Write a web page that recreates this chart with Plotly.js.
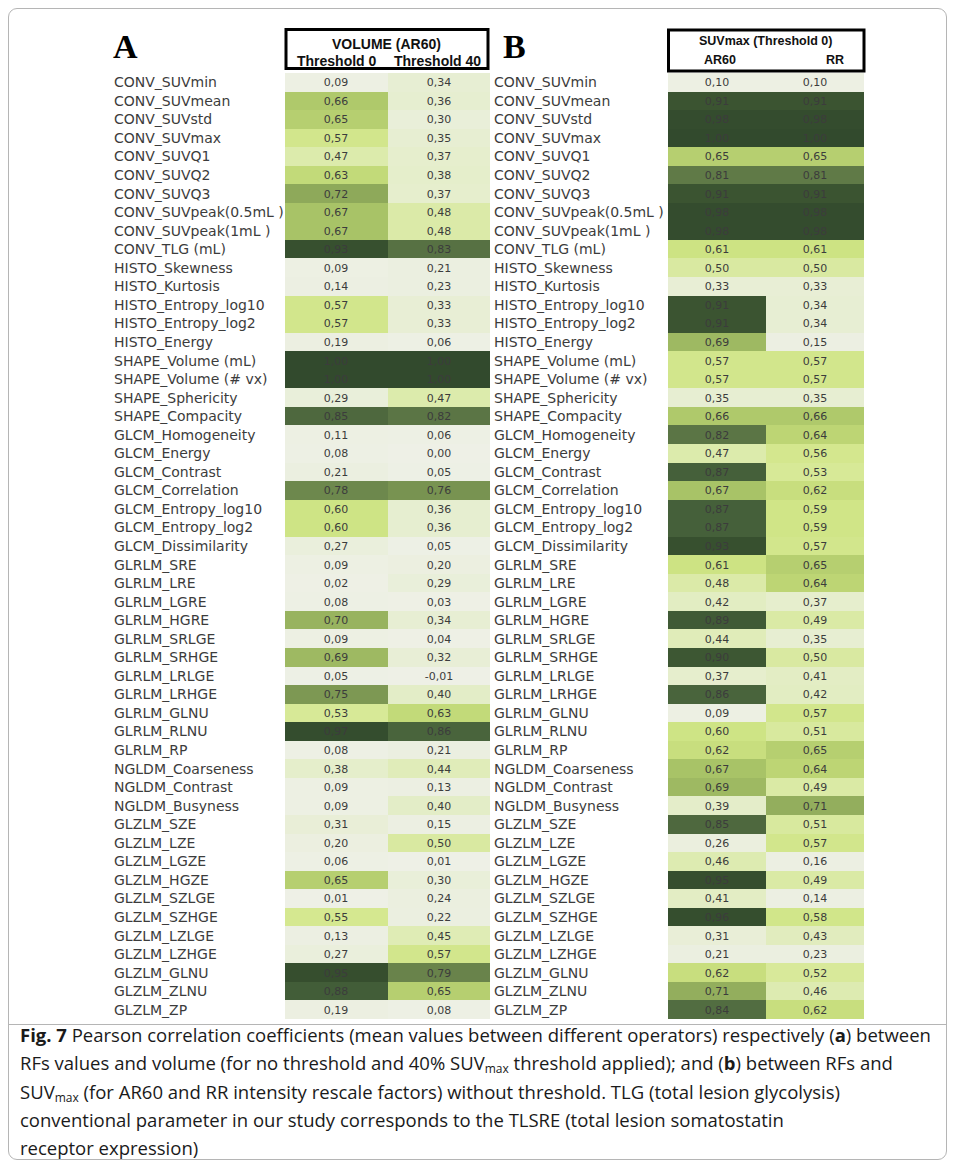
<!DOCTYPE html>
<html><head><meta charset="utf-8">
<script src="https://cdn.plot.ly/plotly-3.0.1.min.js"></script>
<style>
html,body{margin:0;padding:0;background:#fff;}
#wrap{position:relative;width:955px;height:1168px;overflow:hidden;background:#fff;}
#chart{position:absolute;left:0;top:0;width:955px;height:1168px;}
#frame{position:absolute;left:8px;top:8px;width:937px;height:1150px;border:1px solid #b5b5b5;border-radius:9px;pointer-events:none;}
#sep{position:absolute;left:9px;top:1024px;width:937px;height:0;border-top:1px solid #b5b5b5;}
#cap{position:absolute;left:20px;top:1021px;font-family:'Open Sans',sans-serif;font-size:18.5px;line-height:28.3px;color:#1a1a1a;white-space:nowrap;}
#cap sub{font-size:12px;vertical-align:-3px;line-height:0;}
</style></head>
<body>
<div id="wrap">
<div id="chart"></div>
<div id="frame"></div>
<div id="sep"></div>
<div id="cap"><b>Fig. 7</b> Pearson correlation coefficients (mean values between different operators) respectively (<b>a</b>) between<br>RFs values and volume (for no threshold and 40% SUV<sub>max</sub> threshold applied); and (<b>b</b>) between RFs and<br>SUV<sub>max</sub> (for AR60 and RR intensity rescale factors) without threshold. TLG (total lesion glycolysis)<br>conventional parameter in our study corresponds to the TLSRE (total lesion somatostatin<br>receptor expression)</div>
</div>
<script>
const rowLabels = [
 'CONV_SUVmin','CONV_SUVmean','CONV_SUVstd','CONV_SUVmax','CONV_SUVQ1','CONV_SUVQ2','CONV_SUVQ3',
 'CONV_SUVpeak(0.5mL )','CONV_SUVpeak(1mL )','CONV_TLG (mL)',
 'HISTO_Skewness','HISTO_Kurtosis','HISTO_Entropy_log10','HISTO_Entropy_log2','HISTO_Energy',
 'SHAPE_Volume (mL)','SHAPE_Volume (# vx)','SHAPE_Sphericity','SHAPE_Compacity',
 'GLCM_Homogeneity','GLCM_Energy','GLCM_Contrast','GLCM_Correlation','GLCM_Entropy_log10','GLCM_Entropy_log2','GLCM_Dissimilarity',
 'GLRLM_SRE','GLRLM_LRE','GLRLM_LGRE','GLRLM_HGRE','GLRLM_SRLGE','GLRLM_SRHGE','GLRLM_LRLGE','GLRLM_LRHGE','GLRLM_GLNU','GLRLM_RLNU','GLRLM_RP',
 'NGLDM_Coarseness','NGLDM_Contrast','NGLDM_Busyness',
 'GLZLM_SZE','GLZLM_LZE','GLZLM_LGZE','GLZLM_HGZE','GLZLM_SZLGE','GLZLM_SZHGE','GLZLM_LZLGE','GLZLM_LZHGE','GLZLM_GLNU','GLZLM_ZLNU','GLZLM_ZP'
];
const colsA = ['Threshold 0','Threshold 40'];
const colsB = ['AR60','RR'];
const volThr0 = [0.09,0.66,0.65,0.57,0.47,0.63,0.72,0.67,0.67,0.93,
 0.09,0.14,0.57,0.57,0.19,1.00,1.00,
 0.29,0.85,0.11,0.08,0.21,0.78,0.60,0.60,0.27,
 0.09,0.02,0.08,0.70,0.09,0.69,0.05,0.75,0.53,0.97,0.08,
 0.38,0.09,0.09,
 0.31,0.20,0.06,0.65,0.01,0.55,0.13,0.27,0.95,0.88,0.19];
const volThr40 = [0.34,0.36,0.30,0.35,0.37,0.38,0.37,0.48,0.48,0.83,
 0.21,0.23,0.33,0.33,0.06,1.00,1.00,
 0.47,0.82,0.06,0.00,0.05,0.76,0.36,0.36,0.05,
 0.20,0.29,0.03,0.34,0.04,0.32,-0.01,0.40,0.63,0.86,0.21,
 0.44,0.13,0.40,
 0.15,0.50,0.01,0.30,0.24,0.22,0.45,0.57,0.79,0.65,0.08];
const suvAR60 = [0.10,0.91,0.98,1.00,0.65,0.81,0.91,0.98,0.98,0.61,
 0.50,0.33,0.91,0.91,0.69,0.57,0.57,
 0.35,0.66,0.82,0.47,0.87,0.67,0.87,0.87,0.93,
 0.61,0.48,0.42,0.89,0.44,0.90,0.37,0.86,0.09,0.60,0.62,
 0.67,0.69,0.39,
 0.85,0.26,0.46,0.95,0.41,0.96,0.31,0.21,0.62,0.71,0.84];
const suvRR = [0.10,0.91,0.98,1.00,0.65,0.81,0.91,0.98,0.98,0.61,
 0.50,0.33,0.34,0.34,0.15,0.57,0.57,
 0.35,0.66,0.64,0.56,0.53,0.62,0.59,0.59,0.57,
 0.65,0.64,0.37,0.49,0.35,0.50,0.41,0.42,0.57,0.51,0.65,
 0.64,0.49,0.71,
 0.51,0.57,0.16,0.49,0.14,0.58,0.43,0.23,0.52,0.46,0.62];

const W = 955, H = 1168;
const px = v => v / W;
const py = v => 1 - v / H;
const fmt = v => v.toFixed(2).replace('.', ',');

const greens = [
 [0.00,'#eef0e6'],[0.25,'#ebefdf'],[0.35,'#e7eed2'],[0.42,'#e2edc2'],[0.48,'#dbeaa8'],
 [0.55,'#d5e890'],[0.61,'#cde383'],[0.64,'#bdd574'],[0.67,'#a8c367'],[0.72,'#8ea95a'],
 [0.77,'#728d4f'],[0.82,'#5b7545'],[0.87,'#45603a'],[0.92,'#38512f'],[1.00,'#324a2d']
];

function heat(cols, a, b, xa) {
  return {
    type:'heatmap', x: cols, y: rowLabels,
    z: rowLabels.map((_, i) => [a[i], b[i]]),
    text: rowLabels.map((_, i) => [fmt(a[i]), fmt(b[i])]),
    texttemplate:'%{text}',
    textfont:{family:'DejaVu Sans, sans-serif', size:11, color:'#3c3c3c'},
    colorscale: greens, zmin:0, zmax:1, showscale:false,
    xaxis: xa, yaxis:'y', hoverinfo:'skip', xgap:0, ygap:0
  };
}

const data = [heat(colsA, volThr0, volThr40, 'x'), heat(colsB, suvAR60, suvRR, 'x2')];

const annotations = [];
rowLabels.forEach(l => {
  [112, 492].forEach(x0 => annotations.push({
    xref:'paper', yref:'y', x: px(x0), y: l, xanchor:'left', yanchor:'middle',
    text: l, showarrow:false,
    font:{family:'DejaVu Sans, sans-serif', size:14, color:'#3c3c3c'}
  }));
});
const hdr = (t, x, y, size) => ({xref:'paper', yref:'paper', x:px(x), y:py(y), xanchor:'center', yanchor:'middle',
  text:'<b>'+t+'</b>', showarrow:false, font:{family:'Liberation Sans, Arial, sans-serif', size:size, color:'#111'}});
annotations.push(hdr('VOLUME (AR60)', 386.5, 44, 14));
annotations.push(hdr(colsA[0], 337, 61, 14));
annotations.push(hdr(colsA[1], 437, 61, 14));
annotations.push(hdr('SUVmax (Threshold 0)', 765, 41, 12.5));
annotations.push(hdr(colsB[0], 720, 60, 12.5));
annotations.push(hdr(colsB[1], 835, 60, 12.5));
const big = (t, x) => ({xref:'paper', yref:'paper', x:px(x), y:py(47), xanchor:'left', yanchor:'middle',
  text:'<b>'+t+'</b>', showarrow:false, font:{family:'Liberation Serif, serif', size:34, color:'#000'}});
annotations.push(big('A', 111));
annotations.push(big('B', 501));

const box = (x0, x1, y0, y1) => ({type:'rect', xref:'paper', yref:'paper',
  x0:px(x0), x1:px(x1), y0:py(y1), y1:py(y0), line:{color:'#000', width:3}, fillcolor:'rgba(0,0,0,0)'});

const axX = d => ({domain:d, type:'category', range:[-0.5,1.5], showticklabels:false, showgrid:false, zeroline:false, ticks:'', showline:false, fixedrange:true});
const layout = {
  width:W, height:H, margin:{l:0,r:0,t:0,b:0},
  paper_bgcolor:'rgba(0,0,0,0)', plot_bgcolor:'rgba(0,0,0,0)',
  xaxis: axX([px(285), px(490)]),
  xaxis2: Object.assign(axX([px(668), px(864)]), {anchor:'y'}),
  yaxis: {domain:[py(1019), py(73)], type:'category', range:[rowLabels.length-0.5, -0.5],
    showticklabels:false, showgrid:false, zeroline:false, ticks:'', fixedrange:true},
  annotations: annotations,
  shapes: [box(286, 488, 29.5, 68.5), box(668.5, 864, 30, 71)],
  showlegend:false
};
Plotly.newPlot('chart', data, layout, {staticPlot:true, displayModeBar:false});
</script>
</body></html>
